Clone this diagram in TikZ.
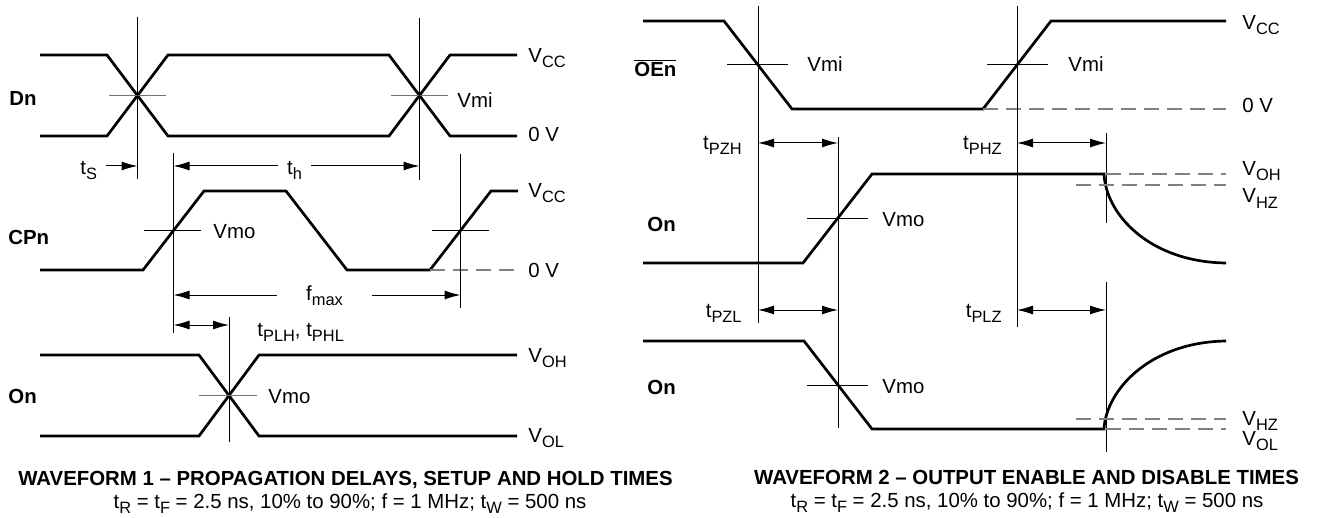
\documentclass[tikz,border=0pt]{standalone}
\usepackage{fontspec}
\setmainfont{Liberation Sans}
\usetikzlibrary{arrows.meta}
\newcommand{\lowtxt}[1]{\raisebox{-2.5pt}{\fontsize{8.2}{9}\selectfont #1}}
\tikzset{wave/.style = {line width=1.35pt}}
\tikzset{guide/.style = {line width=0.5pt}}
\tikzset{level/.style = {line width=0.6pt, black!50, dash pattern=on 7.5pt off 4pt}}
\tikzset{arr/.style = {line width=0.5pt, -{Latex[length=8pt,width=4.5pt]}}}
\tikzset{darr/.style = {line width=0.5pt, {Latex[length=8pt,width=4.5pt]}-{Latex[length=8pt,width=4.5pt]}}}
\tikzset{lbl/.style = {anchor=base west, inner sep=0pt, font=\fontsize{10.2}{12}\selectfont}}
\tikzset{sig/.style = {lbl, font=\fontsize{10.2}{12}\selectfont\bfseries}}
\tikzset{tlbl/.style = {anchor=base east, inner sep=0pt, font=\fontsize{10.2}{12}\selectfont}}
\tikzset{dim/.style = {anchor=base, inner sep=4.5pt, font=\fontsize{10.2}{12}\selectfont}}
\tikzset{captxt/.style = {anchor=base, inner sep=0pt, font=\fontsize{10.2}{12}\selectfont}}

\begin{document}
\begin{tikzpicture}[x=0.5pt, y=-0.5pt]
\useasboundingbox (0,0) rectangle (1331,518);

% waveform 1: Dn
\draw[wave] (40,55) -- (107,55) -- (168,136) -- (389,136) -- (450,55) -- (517,55);
\draw[wave] (40,136) -- (107,136) -- (168,55) -- (389,55) -- (450,136) -- (517,136);
\draw[guide, black!55] (109,95.5) -- (166,95.5);
\draw[guide, black!55] (391,95.5) -- (448,95.5);
\draw[guide] (137.5,17) -- (137.5,179);
\draw[guide] (419.5,18) -- (419.5,180);
\node[sig] (dn) at (9,106) {Dn};
\node[lbl] (dnh) at (528,63) {V\lowtxt{CC}};
\node[lbl] (dnm) at (457,108) {Vmi};
\node[lbl] (dnl) at (528,142) {0 V};

% setup and hold
\coordinate (s1) at (137.5,166);
\coordinate (h0) at (173.5,166);
\coordinate (h1) at (419.5,166);
\node[dim] (ts) at (88.7,175) {t\lowtxt{S}};
\node[dim] (th) at (294.5,175) {t\lowtxt{h}};
\draw[arr] (ts.east |- s1) -- (s1);
\draw[arr] (th.west |- h0) -- (h0);
\draw[arr] (th.east |- h1) -- (h1);

% CPn
\draw[wave] (40,270) -- (143,270) -- (204,191) -- (286,191) -- (347,270) -- (430,270) -- (491,191) -- (518,191);
\draw[guide] (144,230.5) -- (201,230.5);
\draw[guide] (432,230.5) -- (489,230.5);
\draw[level] (430,270) -- (521,270);
\draw[guide] (173.5,153) -- (173.5,333);
\draw[guide] (460.5,154) -- (460.5,308);
\node[sig] (cp) at (8,244) {CPn};
\node[lbl] (cpm) at (213,238) {Vmo};
\node[lbl] (cph) at (528,198) {V\lowtxt{CC}};
\node[lbl] (cpl) at (528,277) {0 V};

\coordinate (f0) at (173.5,295);
\coordinate (f1) at (460.5,295);
\node[dim, inner xsep=14.5pt] (fm) at (324.5,300) {f\lowtxt{max}};
\draw[arr] (fm.west |- f0) -- (f0);
\draw[arr] (fm.east |- f1) -- (f1);

\coordinate (p0) at (173.5,325);
\coordinate (p1) at (229,325);
\draw[darr] (p0) -- (p1);
\draw[guide] (229,317) -- (229,442);
\node[lbl] (tp) at (257,336) {t\lowtxt{PLH}, t\lowtxt{PHL}};

% On
\draw[wave] (40,355) -- (199,355) -- (259,436) -- (517,436);
\draw[wave] (40,436) -- (199,436) -- (259,355) -- (517,355);
\draw[guide, black!55] (199,395.5) -- (257,395.5);
\node[sig] (on1) at (8,403) {On};
\node[lbl] (on1m) at (268,403) {Vmo};
\node[lbl] (on1h) at (528,362) {V\lowtxt{OH}};
\node[lbl] (on1l) at (528,442) {V\lowtxt{OL}};

\node[captxt] (cap1) at (345.5,485) {\bfseries WAVEFORM 1 – PROPAGATION DELAYS, SETUP AND HOLD TIMES};
\node[captxt] (sub1) at (350,508) {t\lowtxt{R} = t\lowtxt{F} = 2.5 ns, 10\% to 90\%; f = 1 MHz; t\lowtxt{W} = 500 ns};

% waveform 2: OEn
\draw[wave] (643,21) -- (724,21) -- (792,109) -- (983,109) -- (1051,21) -- (1226,21);
\draw[guide] (727,65) -- (788,65);
\draw[guide] (987,65) -- (1048,65);
\draw[level] (983,109) -- (1226,109);
\draw[guide] (758,6) -- (758,323);
\draw[guide] (1017,6) -- (1017,327);
\node[sig] (oe) at (634,77) {$\overline{\hbox{OEn}}$};
\node[lbl] (oem1) at (807,72) {Vmi};
\node[lbl] (oem2) at (1068,72) {Vmi};
\node[lbl] (oeh) at (1242,30) {V\lowtxt{CC}};
\node[lbl] (oel) at (1242,113) {0 V};

\coordinate (zh0) at (758,143);
\coordinate (zh1) at (838,143);
\coordinate (hz0) at (1017,143);
\coordinate (hz1) at (1106,143);
\draw[darr] (zh0) -- (zh1);
\draw[darr] (hz0) -- (hz1);
\draw[guide] (838,137) -- (838,428);
\draw[guide] (1106,133) -- (1106,223);
\node[tlbl] (tzh) at (742,150) {t\lowtxt{PZH}};
\node[tlbl] (thz) at (1002,150) {t\lowtxt{PHZ}};

% On, high side
\draw[wave] (643,263) -- (803,263) -- (872,174) -- (1104,174) .. controls (1106,215) and (1150,262) .. (1226,263);
\draw[guide] (807,218.5) -- (868,218.5);
\draw[level] (1106,174) -- (1226,174);
\draw[level] (1076,185) -- (1226,185);
\node[sig] (on2) at (647,231) {On};
\node[lbl] (on2m) at (882,227) {Vmo};
\node[lbl] (on2h) at (1242,176) {V\lowtxt{OH}};
\node[lbl] (on2z) at (1242,203) {V\lowtxt{HZ}};

\coordinate (zl0) at (758,310);
\coordinate (zl1) at (838,310);
\coordinate (lz0) at (1017,310);
\coordinate (lz1) at (1106,310);
\draw[darr] (zl0) -- (zl1);
\draw[darr] (lz0) -- (lz1);
\draw[guide] (1106,282) -- (1106,452);
\node[tlbl] (tzl) at (742,317) {t\lowtxt{PZL}};
\node[tlbl] (tlz) at (1002,317) {t\lowtxt{PLZ}};

% On, low side
\draw[wave] (643,341) -- (804,341) -- (872,429) -- (1104,429) .. controls (1106,390) and (1150,342) .. (1226,341);
\draw[guide] (807,385) -- (868,385);
\draw[level] (1076,419) -- (1226,419);
\draw[level] (1106,429) -- (1226,429);
\node[sig] (on3) at (647,394) {On};
\node[lbl] (on3m) at (882,393) {Vmo};
\node[lbl] (on3z) at (1242,425) {V\lowtxt{HZ}};
\node[lbl] (on3l) at (1242,445) {V\lowtxt{OL}};

\node[captxt] (cap2) at (1026.5,484) {\bfseries WAVEFORM 2 – OUTPUT ENABLE AND DISABLE TIMES};
\node[captxt] (sub2) at (1027,507) {t\lowtxt{R} = t\lowtxt{F} = 2.5 ns, 10\% to 90\%; f = 1 MHz; t\lowtxt{W} = 500 ns};

\end{tikzpicture}
\end{document}
